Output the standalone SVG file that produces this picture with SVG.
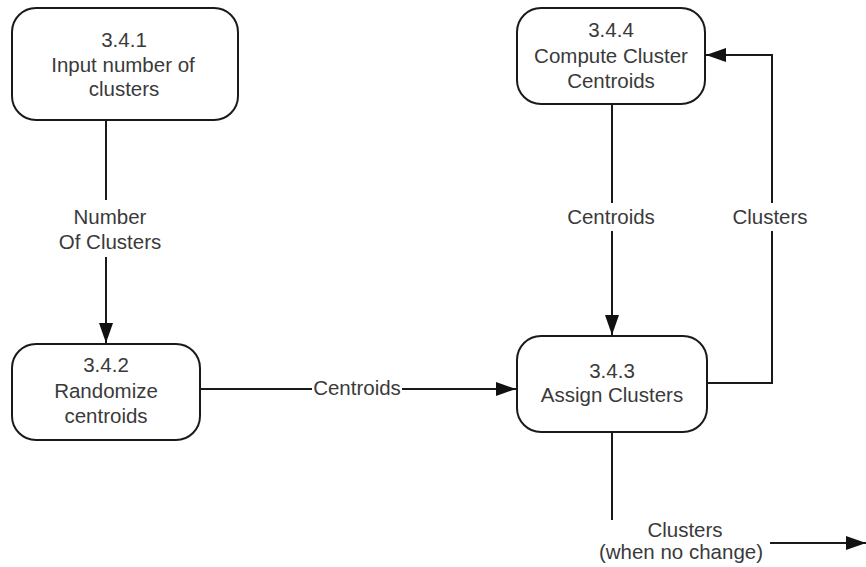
<svg xmlns="http://www.w3.org/2000/svg" width="866" height="567" viewBox="0 0 866 567">
  <style>
    .box { fill: #ffffff; stroke: #1a1a1a; stroke-width: 2; }
    .flow { fill: none; stroke: #1a1a1a; stroke-width: 2; }
    text { font-family: "Liberation Sans", Arial, sans-serif; font-size: 20.5px; fill: #3a3a3a; text-anchor: middle; }
  </style>
  <defs>
    <marker id="arrow" viewBox="0 0 20 14" refX="20" refY="7" markerWidth="20" markerHeight="14" markerUnits="userSpaceOnUse" orient="auto">
      <path d="M0,0 L20,7 L0,14 z" fill="#111"/>
    </marker>
  </defs>
  <rect width="866" height="567" fill="#ffffff"/>

  <g id="connectors">
    <!-- 3.4.1 -> 3.4.2 -->
    <path class="flow" d="M106,121 V200"/>
    <path class="flow" d="M106,257 V343" marker-end="url(#arrow)"/>
    <text x="110" y="224">Number</text>
    <text x="110" y="249">Of Clusters</text>
    <!-- 3.4.2 -> 3.4.3 -->
    <path class="flow" d="M200,389 H312"/>
    <path class="flow" d="M402,389 H516" marker-end="url(#arrow)"/>
    <text x="357" y="395">Centroids</text>
    <!-- 3.4.4 -> 3.4.3 -->
    <path class="flow" d="M612,104 V335" marker-end="url(#arrow)"/>
    <rect x="556" y="203" width="112" height="28" fill="#ffffff"/>
    <text x="611" y="224">Centroids</text>
    <!-- 3.4.3 -> 3.4.4 -->
    <path class="flow" d="M707,383 H772 V55 H706" marker-end="url(#arrow)"/>
    <rect x="724" y="203" width="96" height="28" fill="#ffffff"/>
    <text x="770" y="224">Clusters</text>
    <!-- 3.4.3 output -->
    <path class="flow" d="M612,432 V520"/>
    <path class="flow" d="M770,543 H866" marker-end="url(#arrow)"/>
    <text x="685" y="537">Clusters</text>
    <text x="681" y="559">(when no change)</text>
  </g>

  <g id="node-341">
    <rect class="box" x="12" y="8" width="226" height="112" rx="24" ry="24"/>
    <text x="124" y="47">3.4.1</text>
    <text x="123" y="72">Input number of</text>
    <text x="124" y="96">clusters</text>
  </g>

  <g id="node-342">
    <rect class="box" x="12" y="344" width="188" height="96" rx="24" ry="24"/>
    <text x="106" y="372">3.4.2</text>
    <text x="106" y="398">Randomize</text>
    <text x="106" y="423">centroids</text>
  </g>

  <g id="node-343">
    <rect class="box" x="517" y="336" width="190" height="96" rx="24" ry="24"/>
    <text x="612" y="378">3.4.3</text>
    <text x="612" y="402">Assign Clusters</text>
  </g>

  <g id="node-344">
    <rect class="box" x="517" y="8" width="188" height="96" rx="24" ry="24"/>
    <text x="611" y="37">3.4.4</text>
    <text x="611" y="63">Compute Cluster</text>
    <text x="611" y="88">Centroids</text>
  </g>
</svg>
